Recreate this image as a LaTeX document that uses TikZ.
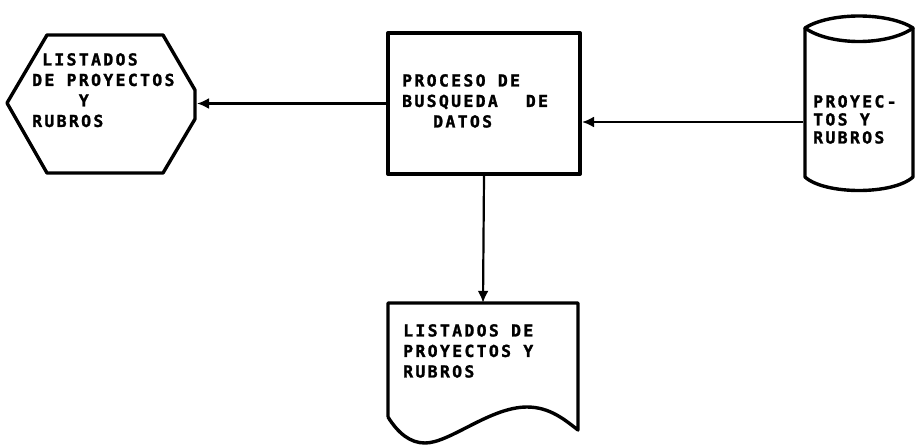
\documentclass[tikz,border=0pt]{standalone}
\usepackage{fontspec}
\newfontfamily\plotfont{DejaVu Sans Mono Bold}[LetterSpace=14, FakeBold=1.5]
\usetikzlibrary{arrows.meta}
\tikzset{
  shapeline/.style={line width=3.4pt, line join=round},
  conn/.style={line width=2.2pt},
  arr/.style={conn, -{Latex[length=12pt,width=11pt]}},
  lbl/.style={anchor=north west, inner sep=0pt, align=left,
    font=\plotfont\fontsize{16.5}{20.5}\selectfont}
}
\begin{document}
\begin{tikzpicture}[x=1pt,y=-1pt]
\useasboundingbox (0,0) rectangle (920,445);
% process box
\node[draw, shapeline, line width=4pt, minimum width=192pt, minimum height=141pt, inner sep=0pt] (proc) at (484,103.5) {};
\node[lbl] (proctext) at (402,74) {PROCESO DE\\BUSQUEDA\hspace{28pt}DE\\\hspace*{31pt}DATOS};
% hexagon display
\draw[shapeline] (7,103) -- (47,35) -- (163,35) -- (195,90) -- (195,119) -- (163,173) -- (47,173) -- cycle;
\coordinate (hexR) at (197,103.5);
\node[lbl] (hextext) at (32,53) {\hphantom{L}LISTADOS\\DE PROYECTOS\\\hphantom{LLLL}Y\\RUBROS};
% cylinder
\draw[shapeline] (805,28) .. controls (830,12) and (888,12) .. (913,28)
   .. controls (888,46) and (830,46) .. (805,28) -- cycle;
\draw[shapeline] (805,28) -- (805,177) .. controls (825,195) and (893,195) .. (913,177) -- (913,28);
\node[inner sep=0pt, minimum width=108pt, minimum height=150pt] (db) at (859,110) {};
\coordinate (dbL) at (803,122);
\node[lbl, font=\plotfont\fontsize{16.5}{18}\selectfont] (dbtext) at (813,95) {PROYEC-\\TOS Y\\RUBROS};
% document
\node[inner sep=0pt, minimum width=190pt, minimum height=127pt] (doc) at (483,366.5) {};
\draw[shapeline] (388,417) -- (388,303) -- (578,303) -- (578,430)
   .. controls (565,420) and (550,407) .. (527,407)
   .. controls (490,407) and (450,443) .. (425,443)
   .. controls (410,443) and (398,433) .. (388,417);
\node[lbl] (doctext) at (403,324) {LISTADOS DE\\PROYECTOS Y\\RUBROS};
% connectors
\draw[arr] (proc.west) -- (hexR);
\draw[arr] (dbL) -- (dbL -| proc.east);
\draw[arr] (proc.south) -- (doc.north);
\end{tikzpicture}
\end{document}
